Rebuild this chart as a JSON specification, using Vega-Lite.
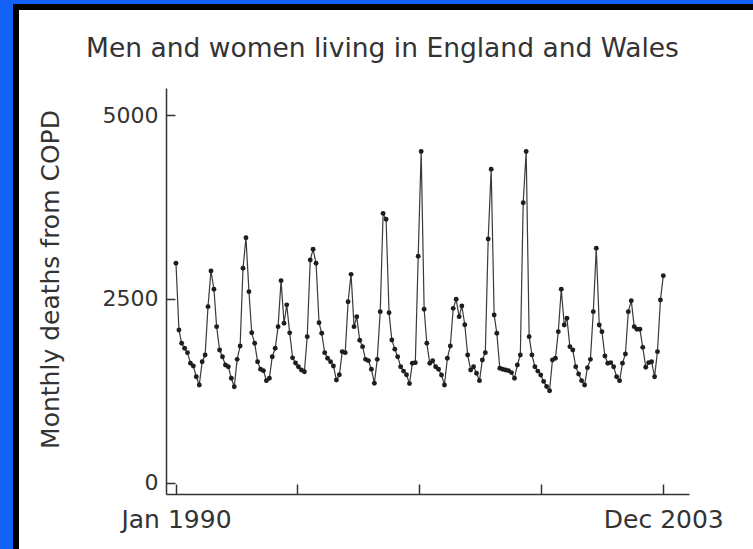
{
  "$schema": "https://vega.github.io/schema/vega-lite/v6.json",
  "background": "white",
  "padding": 0,
  "bounds": "flush",
  "spacing": 0,
  "config": {
    "view": {"stroke": null},
    "font": "DejaVu Sans"
  },
  "vconcat": [
    {
      "width": 753, "height": 4,
      "data": {"values": []},
      "mark": "point", "encoding": {},
      "view": {"fill": "#1262f5"}
    },
    {
      "bounds": "flush",
      "spacing": 0,
      "hconcat": [
        {
          "width": 13, "height": 545,
          "data": {"values": []},
          "mark": "point", "encoding": {},
          "view": {"fill": "#1262f5"}
        },
        {
          "width": 6, "height": 545,
          "data": {"values": []},
          "mark": "point", "encoding": {},
          "view": {"fill": "#000000"}
        },
        {
          "bounds": "flush",
          "spacing": 78,
          "vconcat": [
            {
              "width": 734, "height": 6,
              "data": {"values": []},
              "mark": "point", "encoding": {},
              "view": {"fill": "#000000"}
            },
            {
              "bounds": "flush",
              "spacing": 0,
              "hconcat": [
                {
                  "width": 147, "height": 1,
                  "data": {"values": []},
                  "mark": "point", "encoding": {}
                },
                {
                  "width": 523,
                  "height": 406,
                  "title": {
                    "text": "Men and women living in England and Wales",
                    "anchor": "middle",
                    "frame": "group",
                    "offset": 5,
                    "dx": -45,
                    "baseline": "alphabetic",
                    "fontSize": 26.5,
                    "fontWeight": "normal",
                    "color": "#333333"
                  },
                  "data": {"values": [
                    {"month": "1990-01", "deaths": 2985}, {"month": "1990-02", "deaths": 2079}, {"month": "1990-03", "deaths": 1898}, {"month": "1990-04", "deaths": 1830},
                    {"month": "1990-05", "deaths": 1771}, {"month": "1990-06", "deaths": 1626}, {"month": "1990-07", "deaths": 1590}, {"month": "1990-08", "deaths": 1444},
                    {"month": "1990-09", "deaths": 1332}, {"month": "1990-10", "deaths": 1648}, {"month": "1990-11", "deaths": 1739}, {"month": "1990-12", "deaths": 2396},
                    {"month": "1991-01", "deaths": 2880}, {"month": "1991-02", "deaths": 2632}, {"month": "1991-03", "deaths": 2124}, {"month": "1991-04", "deaths": 1807},
                    {"month": "1991-05", "deaths": 1716}, {"month": "1991-06", "deaths": 1603}, {"month": "1991-07", "deaths": 1580}, {"month": "1991-08", "deaths": 1422},
                    {"month": "1991-09", "deaths": 1308}, {"month": "1991-10", "deaths": 1680}, {"month": "1991-11", "deaths": 1861}, {"month": "1991-12", "deaths": 2917},
                    {"month": "1992-01", "deaths": 3333}, {"month": "1992-02", "deaths": 2600}, {"month": "1992-03", "deaths": 2042}, {"month": "1992-04", "deaths": 1898},
                    {"month": "1992-05", "deaths": 1648}, {"month": "1992-06", "deaths": 1545}, {"month": "1992-07", "deaths": 1526}, {"month": "1992-08", "deaths": 1390},
                    {"month": "1992-09", "deaths": 1422}, {"month": "1992-10", "deaths": 1716}, {"month": "1992-11", "deaths": 1830}, {"month": "1992-12", "deaths": 2124},
                    {"month": "1993-01", "deaths": 2749}, {"month": "1993-02", "deaths": 2170}, {"month": "1993-03", "deaths": 2420}, {"month": "1993-04", "deaths": 2040},
                    {"month": "1993-05", "deaths": 1700}, {"month": "1993-06", "deaths": 1630}, {"month": "1993-07", "deaths": 1580}, {"month": "1993-08", "deaths": 1535},
                    {"month": "1993-09", "deaths": 1512}, {"month": "1993-10", "deaths": 1988}, {"month": "1993-11", "deaths": 3030}, {"month": "1993-12", "deaths": 3175},
                    {"month": "1994-01", "deaths": 2985}, {"month": "1994-02", "deaths": 2178}, {"month": "1994-03", "deaths": 2034}, {"month": "1994-04", "deaths": 1771},
                    {"month": "1994-05", "deaths": 1694}, {"month": "1994-06", "deaths": 1648}, {"month": "1994-07", "deaths": 1590}, {"month": "1994-08", "deaths": 1399},
                    {"month": "1994-09", "deaths": 1470}, {"month": "1994-10", "deaths": 1784}, {"month": "1994-11", "deaths": 1771}, {"month": "1994-12", "deaths": 2463},
                    {"month": "1995-01", "deaths": 2835}, {"month": "1995-02", "deaths": 2124}, {"month": "1995-03", "deaths": 2260}, {"month": "1995-04", "deaths": 1940},
                    {"month": "1995-05", "deaths": 1852}, {"month": "1995-06", "deaths": 1680}, {"month": "1995-07", "deaths": 1662}, {"month": "1995-08", "deaths": 1545},
                    {"month": "1995-09", "deaths": 1355}, {"month": "1995-10", "deaths": 1680}, {"month": "1995-11", "deaths": 2328}, {"month": "1995-12", "deaths": 3664},
                    {"month": "1996-01", "deaths": 3583}, {"month": "1996-02", "deaths": 2314}, {"month": "1996-03", "deaths": 1943}, {"month": "1996-04", "deaths": 1818},
                    {"month": "1996-05", "deaths": 1716}, {"month": "1996-06", "deaths": 1580}, {"month": "1996-07", "deaths": 1520}, {"month": "1996-08", "deaths": 1470},
                    {"month": "1996-09", "deaths": 1350}, {"month": "1996-10", "deaths": 1626}, {"month": "1996-11", "deaths": 1635}, {"month": "1996-12", "deaths": 3080},
                    {"month": "1997-01", "deaths": 4505}, {"month": "1997-02", "deaths": 2360}, {"month": "1997-03", "deaths": 1898}, {"month": "1997-04", "deaths": 1626},
                    {"month": "1997-05", "deaths": 1662}, {"month": "1997-06", "deaths": 1580}, {"month": "1997-07", "deaths": 1545}, {"month": "1997-08", "deaths": 1467},
                    {"month": "1997-09", "deaths": 1332}, {"month": "1997-10", "deaths": 1694}, {"month": "1997-11", "deaths": 1861}, {"month": "1997-12", "deaths": 2373},
                    {"month": "1998-01", "deaths": 2496}, {"month": "1998-02", "deaths": 2260}, {"month": "1998-03", "deaths": 2405}, {"month": "1998-04", "deaths": 2150},
                    {"month": "1998-05", "deaths": 1739}, {"month": "1998-06", "deaths": 1535}, {"month": "1998-07", "deaths": 1580}, {"month": "1998-08", "deaths": 1490},
                    {"month": "1998-09", "deaths": 1390}, {"month": "1998-10", "deaths": 1671}, {"month": "1998-11", "deaths": 1771}, {"month": "1998-12", "deaths": 3315},
                    {"month": "1999-01", "deaths": 4262}, {"month": "1999-02", "deaths": 2283}, {"month": "1999-03", "deaths": 2034}, {"month": "1999-04", "deaths": 1558},
                    {"month": "1999-05", "deaths": 1545}, {"month": "1999-06", "deaths": 1535}, {"month": "1999-07", "deaths": 1526}, {"month": "1999-08", "deaths": 1500},
                    {"month": "1999-09", "deaths": 1422}, {"month": "1999-10", "deaths": 1603}, {"month": "1999-11", "deaths": 1739}, {"month": "1999-12", "deaths": 3808},
                    {"month": "2000-01", "deaths": 4505}, {"month": "2000-02", "deaths": 1988}, {"month": "2000-03", "deaths": 1740}, {"month": "2000-04", "deaths": 1580},
                    {"month": "2000-05", "deaths": 1520}, {"month": "2000-06", "deaths": 1467}, {"month": "2000-07", "deaths": 1380}, {"month": "2000-08", "deaths": 1310},
                    {"month": "2000-09", "deaths": 1254}, {"month": "2000-10", "deaths": 1671}, {"month": "2000-11", "deaths": 1694}, {"month": "2000-12", "deaths": 2056},
                    {"month": "2001-01", "deaths": 2632}, {"month": "2001-02", "deaths": 2147}, {"month": "2001-03", "deaths": 2238}, {"month": "2001-04", "deaths": 1852},
                    {"month": "2001-05", "deaths": 1807}, {"month": "2001-06", "deaths": 1580}, {"month": "2001-07", "deaths": 1481}, {"month": "2001-08", "deaths": 1390},
                    {"month": "2001-09", "deaths": 1332}, {"month": "2001-10", "deaths": 1567}, {"month": "2001-11", "deaths": 1680}, {"month": "2001-12", "deaths": 2328},
                    {"month": "2002-01", "deaths": 3189}, {"month": "2002-02", "deaths": 2147}, {"month": "2002-03", "deaths": 2056}, {"month": "2002-04", "deaths": 1726},
                    {"month": "2002-05", "deaths": 1626}, {"month": "2002-06", "deaths": 1635}, {"month": "2002-07", "deaths": 1580}, {"month": "2002-08", "deaths": 1444},
                    {"month": "2002-09", "deaths": 1390}, {"month": "2002-10", "deaths": 1626}, {"month": "2002-11", "deaths": 1753}, {"month": "2002-12", "deaths": 2328},
                    {"month": "2003-01", "deaths": 2477}, {"month": "2003-02", "deaths": 2124}, {"month": "2003-03", "deaths": 2088}, {"month": "2003-04", "deaths": 2088},
                    {"month": "2003-05", "deaths": 1843}, {"month": "2003-06", "deaths": 1572}, {"month": "2003-07", "deaths": 1635}, {"month": "2003-08", "deaths": 1648},
                    {"month": "2003-09", "deaths": 1444}, {"month": "2003-10", "deaths": 1784}, {"month": "2003-11", "deaths": 2486}, {"month": "2003-12", "deaths": 2817}
                  ]},
                  "encoding": {
                    "x": {
                      "field": "month",
                      "type": "temporal",
                      "scale": {"domain": ["1989-09-19", "2004-08-25"], "nice": false},
                      "axis": {
                        "title": null,
                        "grid": false,
                        "values": ["1990-01-01", "1993-06-19", "1996-12-07", "2000-05-30", "2003-12-01"],
                        "labelExpr": "year(datum.value) == 1990 ? 'Jan 1990' : (year(datum.value) == 2003 ? 'Dec 2003' : '')",
                        "tickSize": -10,
                        "tickWidth": 1.5,
                        "tickColor": "#333333",
                        "domainColor": "#333333",
                        "domainWidth": 1.5,
                        "labelFontSize": 25,
                        "labelColor": "#333333",
                        "labelPadding": 23,
                        "labelOverlap": false,
                        "labelFlush": false
                      }
                    },
                    "y": {
                      "field": "deaths",
                      "type": "quantitative",
                      "scale": {"domain": [-150, 5367], "nice": false, "zero": false},
                      "axis": {
                        "title": "Monthly deaths from COPD",
                        "titleFontSize": 25,
                        "titleFontWeight": "normal",
                        "titleColor": "#333333",
                        "titlePadding": 39,
                        "titleY": 191,
                        "grid": false,
                        "values": [0, 2500, 5000],
                        "format": "d",
                        "tickSize": -9,
                        "tickWidth": 1.5,
                        "tickColor": "#333333",
                        "domainColor": "#333333",
                        "domainWidth": 1.5,
                        "labelFontSize": 22,
                        "labelColor": "#333333",
                        "labelPadding": 17
                      }
                    }
                  },
                  "layer": [
                    {"mark": {"type": "line", "color": "#3a3a3a", "strokeWidth": 1.2}},
                    {"mark": {"type": "point", "filled": true, "color": "#1e1e1e", "size": 24, "opacity": 1}}
                  ]
                }
              ]
            }
          ]
        }
      ]
    }
  ]
}
